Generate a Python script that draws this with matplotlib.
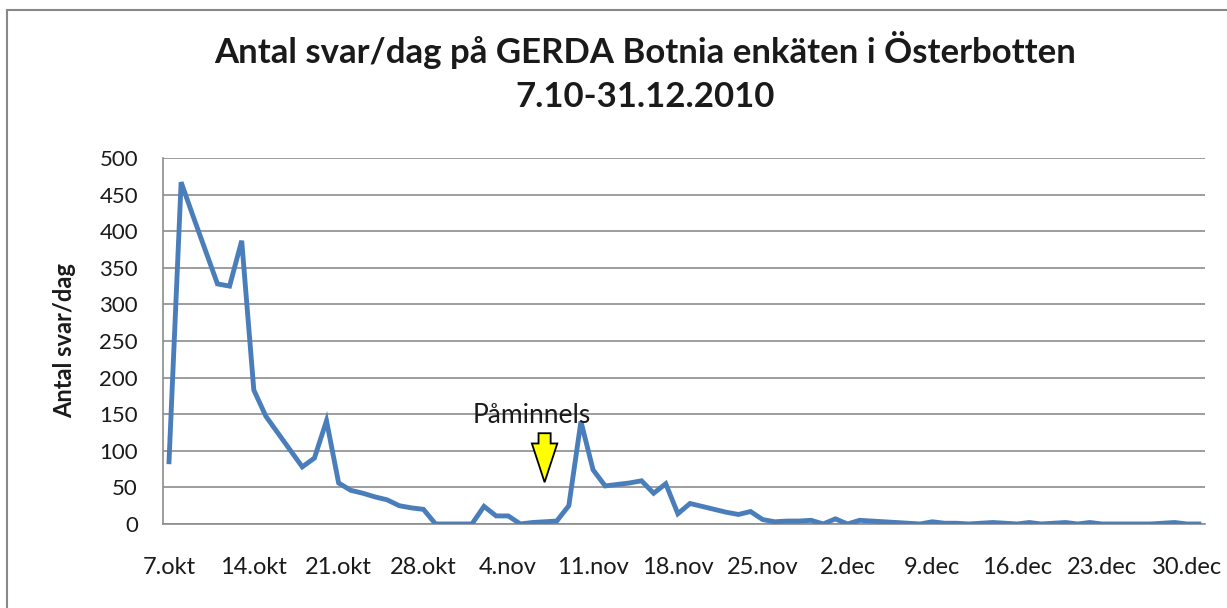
import matplotlib
matplotlib.use("Agg")
import matplotlib.pyplot as plt
from matplotlib.patches import FancyArrow, Rectangle

# daily answers, 7.10 - 31.12.2010 (86 days)
svar_per_dag = [
    85, 467, 420, 374, 328, 325, 387, 183, 147, 124,
    101, 78, 90, 141, 56, 46, 42, 37, 33, 25,
    22, 20, 0, 0, 0, 0, 24, 11, 11, 0,
    2, 3, 4, 25, 140, 74, 52, 54, 56, 59,
    42, 55, 14, 28, 24, 20, 16, 13, 17, 6,
    3, 4, 4, 5, 0, 7, 0, 5, 4, 3,
    2, 1, 0, 3, 1, 1, 0, 1, 2, 1,
    0, 2, 0, 1, 2, 0, 2, 0, 0, 0,
    0, 0, 1, 2, 0, 0,
]
tick_labels = [
    "7.okt", "14.okt", "21.okt", "28.okt", "4.nov", "11.nov", "18.nov",
    "25.nov", "2.dec", "9.dec", "16.dec", "23.dec", "30.dec",
]
y_ticks = [0, 50, 100, 150, 200, 250, 300, 350, 400, 450, 500]

FONT = ["Lato", "DejaVu Sans"]
GRID = "#8c8c8c"
LINE = "#4a7ebb"
TEXT = "#1a1a1a"

plt.rcParams["font.family"] = FONT

fig = plt.figure(figsize=(12.27, 6.08), dpi=100)
ax = fig.add_axes([0.1328, 0.1382, 0.982 - 0.1328, 0.7401 - 0.1382])

days = list(range(len(svar_per_dag)))
ax.plot(days, svar_per_dag, color=LINE, linewidth=3.5, solid_joinstyle="miter",
        zorder=3)

ax.set_xlim(-0.5, len(svar_per_dag) - 0.5)
ax.set_ylim(0, 500)
ax.set_yticks(y_ticks)
ax.set_xticks(range(0, len(svar_per_dag), 7))
ax.set_xticklabels(tick_labels)
ax.tick_params(axis="both", length=0, colors=TEXT)
ax.tick_params(axis="x", pad=24, labelsize=17)
ax.tick_params(axis="y", pad=18, labelsize=16)

ax.grid(axis="y", color=GRID, linewidth=1.2)
ax.set_axisbelow(True)
for name, spine in ax.spines.items():
    spine.set_visible(name in ("left", "bottom"))
    spine.set_color(GRID)
    spine.set_linewidth(1.2)

ax.set_ylabel("Antal svar/dag", fontsize=17, fontweight="bold", labelpad=17,
              color=TEXT)

fig.text(645 / 1227, 1 - 50 / 608, "Antal svar/dag på GERDA Botnia enkäten i Österbotten",
         fontsize=25, fontweight="bold", ha="center", va="center", color=TEXT)
fig.text(645 / 1227, 1 - 97 / 608, "7.10-31.12.2010",
         fontsize=25, fontweight="bold", ha="center", va="center", color=TEXT)

# reminder arrow + (clipped) text
ax.add_patch(FancyArrow(31.0, 124, 0, -67, width=1.0, head_width=2.1,
                        head_length=53, length_includes_head=True,
                        facecolor="#ffff00", edgecolor="black", linewidth=1.3,
                        zorder=4))
note = ax.text(29.9, 138, "Påminnels", fontsize=19, ha="center", va="baseline",
               color=TEXT, zorder=5)
note.set_clip_path(Rectangle((20, 141.5), 20, 100, transform=ax.transData))

# chart-area frame
fig.patches.append(Rectangle((7 / 1227, -0.1), 1.2, 1 - 10 / 608 + 0.1,
                             transform=fig.transFigure, fill=False,
                             edgecolor="#888888", linewidth=1.5))

fig.savefig("out.png", dpi=100)
